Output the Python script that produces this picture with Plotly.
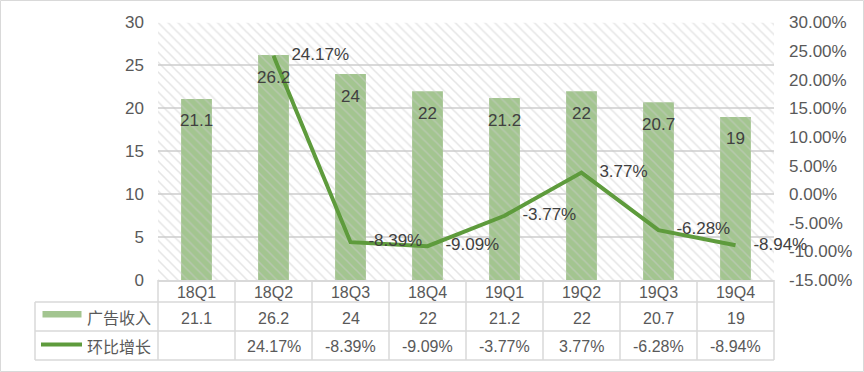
import plotly.graph_objects as go

categories = ["18Q1", "18Q2", "18Q3", "18Q4", "19Q1", "19Q2", "19Q3", "19Q4"]
ad_revenue = [21.1, 26.2, 24, 22, 21.2, 22, 20.7, 19]
qoq_growth = [None, 24.17, -8.39, -9.09, -3.77, 3.77, -6.28, -8.94]
series_names = ["广告收入", "环比增长"]
left_ticks = [0, 5, 10, 15, 20, 25, 30]
right_ticks = [-15, -10, -5, 0, 5, 10, 15, 20, 25, 30]

W, H = 864, 372
BAR_COLOR = "#A3C590"
LINE_COLOR = "#5E9B3C"
GRID = "#D9D9D9"
AXIS_TXT = "#595959"
LBL_TXT = "#404040"
FONT = "Liberation Sans, Arial, sans-serif"
CJK = "Noto Sans CJK SC, sans-serif"

# plot area in pixels
PX0, PX1 = 158, 774
PY0, PY1 = 22.5, 280  # top, bottom
TBL_L = 35
ROW_Y = [280, 302, 331, 360]

def px(x):
    return x / W

def py(y):
    return 1 - y / H

n = len(categories)
xidx = list(range(n))
xr = [-0.5, n - 0.5]

fig = go.Figure()

# hatched plot-area background
fig.add_trace(go.Scatter(
    x=[xr[0], xr[1], xr[1], xr[0], xr[0]],
    y=[left_ticks[0], left_ticks[0], left_ticks[-1], left_ticks[-1], left_ticks[0]],
    mode="lines", fill="toself", line=dict(width=0),
    fillcolor="rgba(0,0,0,0)",
    fillpattern=dict(shape="\\", fgcolor="#CCCCCC", bgcolor="rgba(0,0,0,0)",
                     size=7, solidity=0.22),
    hoverinfo="skip", showlegend=False,
))

fig.add_trace(go.Bar(
    x=xidx, y=ad_revenue, name=series_names[0], width=0.4,
    marker=dict(color=BAR_COLOR, line=dict(width=0)),
    showlegend=False,
))

fig.add_trace(go.Scatter(
    x=xidx, y=qoq_growth, name=series_names[1], yaxis="y2",
    mode="lines+markers+text",
    line=dict(color=LINE_COLOR, width=4),
    marker=dict(size=27, color="rgba(0,0,0,0)"),
    text=["" if v is None else f"{v:.2f}%" for v in qoq_growth],
    textposition="middle right",
    textfont=dict(family=FONT, size=17, color=LBL_TXT),
    cliponaxis=False,
    connectgaps=False, showlegend=False,
))

annotations = []
# bar labels (inside end)
for i, v in enumerate(ad_revenue):
    annotations.append(dict(
        x=i, y=v, xref="x", yref="y", text=f"{v:g}", showarrow=False,
        yanchor="middle", yshift=-22, font=dict(family=FONT, size=17, color=LBL_TXT),
    ))

# data table text
row2_c = 318
row3_c = 346.5
for i in range(n):
    annotations.append(dict(
        x=i, y=py(row2_c), xref="x", yref="paper", text=f"{ad_revenue[i]:g}",
        xanchor="center", yanchor="middle",
        showarrow=False, font=dict(family=FONT, size=16, color=AXIS_TXT),
    ))
    g = qoq_growth[i]
    annotations.append(dict(
        x=i, y=py(row3_c), xref="x", yref="paper",
        text="" if g is None else f"{g:.2f}%",
        xanchor="center", yanchor="middle",
        showarrow=False, font=dict(family=FONT, size=16, color=AXIS_TXT),
    ))
for name, yc in zip(series_names, [316.5, 345.5]):
    annotations.append(dict(
        x=px(85), y=py(yc), xref="paper", yref="paper", text=name,
        xanchor="left", yanchor="middle",
        showarrow=False, font=dict(family=CJK, size=16, color=AXIS_TXT),
    ))

shapes = []
# outer chart border
shapes.append(dict(type="rect", xref="paper", yref="paper",
                   x0=px(0.5), x1=px(W - 0.5), y0=py(H - 0.5), y1=py(0.5),
                   line=dict(color=GRID, width=1), layer="below"))
# table horizontal lines
for yy in ROW_Y[1:]:
    shapes.append(dict(type="line", xref="paper", yref="paper",
                       x0=px(TBL_L), x1=px(PX1), y0=py(yy), y1=py(yy),
                       line=dict(color=GRID, width=1.5)))
# table left border
shapes.append(dict(type="line", xref="paper", yref="paper",
                   x0=px(TBL_L), x1=px(TBL_L), y0=py(ROW_Y[1]), y1=py(ROW_Y[3]),
                   line=dict(color=GRID, width=1.5)))
# column separators
for k in range(n + 1):
    xx = PX0 + (PX1 - PX0) * k / n
    shapes.append(dict(type="line", xref="paper", yref="paper",
                       x0=px(xx), x1=px(xx), y0=py(ROW_Y[0]), y1=py(ROW_Y[3]),
                       line=dict(color=GRID, width=1.5)))
# legend keys
shapes.append(dict(type="rect", xref="paper", yref="paper",
                   x0=px(42.5), x1=px(81.5), y0=py(317.5), y1=py(311),
                   fillcolor=BAR_COLOR, line=dict(width=0)))
shapes.append(dict(type="line", xref="paper", yref="paper",
                   x0=px(41), x1=px(82), y0=py(344.5), y1=py(344.5),
                   line=dict(color=LINE_COLOR, width=4)))

fig.update_layout(
    width=W, height=H, autosize=False,
    margin=dict(l=0, r=0, t=0, b=0, pad=0, autoexpand=False),
    paper_bgcolor="white", plot_bgcolor="rgba(0,0,0,0)",
    barmode="overlay",
    font=dict(family=FONT, color=AXIS_TXT),
    xaxis=dict(
        domain=[px(PX0), px(PX1)], range=xr, automargin=False,
        tickmode="array", tickvals=xidx, ticktext=categories,
        showgrid=False, zeroline=False,
        showline=True, linecolor=GRID, linewidth=1.5,
        ticks="", ticklabelstandoff=-3,
        tickfont=dict(family=FONT, size=16, color=AXIS_TXT),
        fixedrange=True,
    ),
    yaxis=dict(
        domain=[py(PY1), py(PY0)], range=[left_ticks[0], left_ticks[-1]],
        automargin=False,
        tickmode="array", tickvals=left_ticks,
        showgrid=True, gridcolor=GRID, gridwidth=1.5,
        zeroline=False, showline=False, ticks="",
        ticklabelstandoff=13,
        tickfont=dict(family=FONT, size=17, color=AXIS_TXT),
    ),
    yaxis2=dict(
        overlaying="y", side="right", anchor="x", automargin=False,
        range=[right_ticks[0], right_ticks[-1]],
        tickmode="array", tickvals=right_ticks,
        ticktext=[f"{t:.2f}%" for t in right_ticks],
        showgrid=False, zeroline=False, showline=False, ticks="",
        ticklabelstandoff=14,
        tickfont=dict(family=FONT, size=17, color=AXIS_TXT),
    ),
    shapes=shapes,
    annotations=annotations,
    showlegend=False,
)

post = (
    "document.body.style.margin='0';document.body.style.padding='0';"
    "document.body.style.overflow='hidden';"
)

fig.write_html(
    "out.html",
    config={"responsive": False, "displayModeBar": False},
    post_script=post,
)
